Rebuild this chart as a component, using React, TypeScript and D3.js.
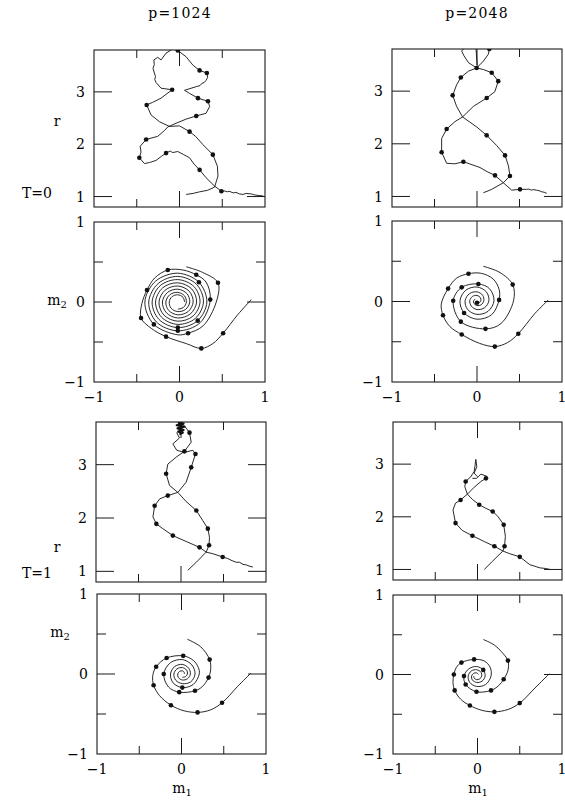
import React, { useEffect, useRef } from "react";
import * as d3 from "d3";

// each point: [m1, r or m2, dot?]
const rA1 = [[0.98,1.01],[0.93,1.02],[0.88,1.03],[0.84,1.05],[0.78,1.06],[0.74,1.04],[0.70,1.05],[0.66,1.08],[0.63,1.07],[0.58,1.10],[0.56,1.09],[0.52,1.11],[0.49,1.10,1],[0.41,1.20],[0.31,1.36],[0.235,1.51,1],[0.17,1.62],[0.118,1.74],[0.05,1.80],[-0.02,1.86],[-0.08,1.84],[-0.11,1.87],[-0.157,1.83,1],[-0.21,1.77],[-0.275,1.69],[-0.35,1.65],[-0.41,1.63],[-0.47,1.74,1],[-0.45,1.85],[-0.46,1.96],[-0.39,2.09,1],[-0.255,2.15],[-0.176,2.26],[-0.137,2.33],[-0.04,2.40],[0.078,2.48],[0.196,2.54,1],[0.31,2.59],[0.353,2.72],[0.333,2.82,1],[0.216,2.88,1],[0.118,2.97],[0.059,3.03],[0.196,3.10],[0.24,3.12],[0.26,3.16],[0.29,3.18],[0.31,3.22],[0.33,3.28],[0.32,3.36,1],[0.235,3.41,1],[0.157,3.51],[0.078,3.67],[-0.02,3.79,1]];
const rA2 = [[0.078,1.04],[0.16,1.06],[0.235,1.09],[0.33,1.12],[0.41,1.18],[0.45,1.39],[0.443,1.58],[0.39,1.80,1],[0.275,1.99],[0.188,2.15],[0.118,2.24,1],[0.0,2.35],[-0.118,2.34],[-0.235,2.43],[-0.333,2.56],[-0.384,2.75,1],[-0.314,2.80],[-0.216,2.88],[-0.086,3.04,1],[-0.216,3.07],[-0.275,3.18],[-0.29,3.24],[-0.28,3.29],[-0.294,3.36],[-0.31,3.45],[-0.295,3.52],[-0.30,3.61],[-0.255,3.66],[-0.216,3.61],[-0.157,3.74],[-0.098,3.80]];

const s1B = [[0.84,0.03],[0.68,-0.16],[0.51,-0.39,1],[0.39,-0.52],[0.255,-0.58,1],[0.08,-0.52],[-0.157,-0.433,1],[-0.33,-0.33],[-0.45,-0.2,1],[-0.44,-0.02],[-0.38,0.15,1],[-0.29,0.30],[-0.137,0.40,1],[0.04,0.40],[0.196,0.34,1],[0.31,0.25],[0.36,0.03,1],
  [0.24,-0.26],[-0.02,-0.36,1],[-0.27,-0.25],[-0.36,0],[-0.25,0.23],[-0.02,0.32],[0.20,0.22],[0.28,0],
  [0.185,-0.205],[-0.02,-0.28],[-0.21,-0.19],[-0.28,0],[-0.197,0.177],[-0.02,0.24],[0.143,0.163],[0.20,0],
  [0.128,-0.148],[-0.02,-0.20],[-0.154,-0.134],[-0.20,0],[-0.14,0.12],[-0.02,0.16],[0.086,0.106],[0.12,0],
  [0.072,-0.092],[-0.02,-0.12],[-0.098,-0.078],[-0.12,0],[-0.087,0.067],[-0.02,0.09],[0.04,0.06],[0.06,0]];
const s2B = [[0.08,0.44],[0.27,0.37],[0.45,0.24,1],[0.43,0],[0.277,-0.297],[0.1,-0.39,1],[-0.02,-0.41],[-0.30,-0.28,1],[-0.405,0],[-0.28,0.26],[-0.02,0.36],[0.227,0.247,1],[0.32,0],
  [0.213,-0.233,1],[-0.02,-0.32,1],[-0.239,-0.219],[-0.32,0],[-0.225,0.205],[-0.02,0.28],[0.171,0.191],[0.24,0],
  [0.157,-0.177],[-0.02,-0.24],[-0.183,-0.163],[-0.24,0],[-0.168,0.148],[-0.02,0.20],[0.114,0.134],[0.16,0],
  [0.10,-0.12],[-0.02,-0.16],[-0.126,-0.106],[-0.16,0],[-0.112,0.092],[-0.02,0.12],[0.058,0.078],[0.08,0],[0.047,-0.067],[-0.02,-0.09]];

const rC1 = [[0.82,1.06],[0.79,1.08],[0.76,1.09],[0.73,1.11],[0.70,1.12],[0.66,1.13],[0.64,1.12],[0.61,1.14],[0.584,1.135],[0.506,1.135,1],[0.408,1.12],[0.31,1.26],[0.212,1.40,1],[0.12,1.47],[0.035,1.55],[-0.16,1.66,1],[-0.26,1.62],[-0.357,1.63],[-0.416,1.84,1],[-0.416,2.10],[-0.357,2.28,1],[-0.26,2.42],[-0.17,2.51],[-0.043,2.71],[0.114,2.87,1],[0.21,2.99],[0.25,3.19,1],[0.173,3.35,1],[0.075,3.41],[-0.004,3.44],[-0.10,3.54],[-0.153,3.67],[-0.18,3.76],[-0.14,3.84]];
const rC2 = [[0.075,1.07],[0.173,1.135],[0.31,1.26],[0.388,1.39,1],[0.37,1.58],[0.33,1.78,1],[0.23,1.97],[0.114,2.16,1],[-0.004,2.32],[-0.17,2.51],[-0.24,2.71],[-0.286,2.92,1],[-0.24,3.12],[-0.19,3.26,1],[-0.10,3.38],[-0.004,3.44,1],[0.075,3.57],[0.133,3.70],[0.145,3.80,1]];
const rC3 = [[-0.012,3.82],[-0.004,3.63],[0.004,3.45]];

const s1D = [[0.84,0.02],[0.68,-0.15],[0.486,-0.40,1],[0.36,-0.51],[0.21,-0.56,1],[0.03,-0.52],[-0.18,-0.41,1],[-0.32,-0.31],[-0.40,-0.17,1],[-0.42,-0.03],[-0.34,0.16,1],[-0.24,0.29],[-0.10,0.345,1],[0.05,0.35],[0.19,0.28],[0.26,0.15],[0.26,0.02,1],
  [0.173,-0.163],[0,-0.22],[-0.152,-0.142,1],[-0.20,0.01],[-0.131,0.141],[0,0.18],[0.11,0.12],[0.14,0.01],
  [0.088,-0.078],[0,-0.10],[-0.067,-0.057],[-0.085,0.01],[-0.053,0.063],[0,0.075],[0.039,0.049],[0.045,0.01],[0.025,-0.015],[0,-0.015,1]];
const s2D = [[0.075,0.437],[0.27,0.36],[0.42,0.21,1],[0.43,0.01],[0.283,-0.273],[0.10,-0.34,1],[-0.19,-0.25,1],[-0.28,0.01,1],[-0.18,0.176,1],[0.016,0.218,1],[0.148,0.158],[0.20,0.01],
  [0.131,-0.121],[0,-0.16],[-0.11,-0.10],[-0.14,0.01],[-0.088,0.098],[0,0.12],[0.067,0.077],[0.08,0.01],[0.05,-0.04],[0,-0.05],[-0.035,-0.025],[-0.04,0.01],[-0.02,0.03]];

const rE1 = [[0.845,1.08],[0.80,1.10],[0.77,1.12],[0.73,1.13],[0.69,1.17],[0.65,1.17],[0.60,1.20],[0.55,1.24],[0.49,1.27,1],[0.375,1.33],[0.296,1.36],[0.218,1.45,1],[0.06,1.56],[-0.096,1.67,1],[-0.214,1.80],[-0.29,1.89,1],[-0.33,2.02],[-0.31,2.23,1],[-0.25,2.36],[-0.155,2.42,1],[-0.037,2.48],[0.06,2.67],[0.12,2.95,1],[0.17,3.20,1],[0.14,3.27],[0.04,3.23],[-0.05,3.27],[-0.096,3.39],[-0.018,3.50],[-0.05,3.60],[0.02,3.70],[-0.018,3.79]];
const rE2 = [[0.08,1.02],[0.18,1.17],[0.296,1.36],[0.33,1.49,1],[0.335,1.64],[0.316,1.80,1],[0.257,1.95],[0.18,2.14,1],[0.06,2.31],[-0.037,2.48],[-0.135,2.61],[-0.175,2.83,1],[-0.155,3.01],[-0.057,3.14],[0.04,3.25,1],[0.12,3.42],[0.10,3.60,1],[0.04,3.73],[0.002,3.79]];
const rE3 = [[-0.037,3.79],[0.03,3.77],[-0.05,3.74],[0.04,3.71],[-0.04,3.68],[0.03,3.65],[-0.03,3.62],[0.02,3.60],[-0.02,3.57]];

const s1F = [[0.82,0.01],[0.66,-0.16],[0.48,-0.36,1],[0.34,-0.45],[0.19,-0.48,1],[0.03,-0.46],[-0.125,-0.39,1],[-0.26,-0.27],[-0.33,-0.14,1],[-0.34,-0.02],[-0.30,0.09,1],[-0.176,0.20,1],[0.02,0.227,1],[0.14,0.17],[0.20,0.08],[0.21,0],
  [0.14,-0.13],[0.01,-0.17,1],[-0.10,-0.11],[-0.13,0],[-0.082,0.092],[0.01,0.12],[0.084,0.074],[0.105,0],
  [0.07,-0.06],[0.01,-0.075],[-0.036,-0.046],[-0.045,0],[-0.022,0.032],[0.01,0.04],[0.031,0.021],[0.035,0]];
const s2F = [[0.07,0.434],[0.227,0.34],[0.333,0.18,1],[0.345,0.05],[0.32,-0.045,1],[0.247,-0.157],[0.16,-0.21,1],[-0.027,-0.227,1],[-0.153,-0.163],[-0.21,0,1],[-0.131,0.141],[0.01,0.18],[0.123,0.113],[0.16,0],
  [0.109,-0.099],[0.01,-0.12],[-0.068,-0.078],[-0.09,0],[-0.054,0.064],[0.01,0.08],[0.06,0.05],[0.07,0],[0.045,-0.035],[0.01,-0.04]];

const rG1 = [[0.86,1.0],[0.80,1.02],[0.74,1.03],[0.68,1.06],[0.62,1.09],[0.50,1.24,1],[0.38,1.30],[0.30,1.35],[0.20,1.44,1],[0.08,1.53],[-0.06,1.64,1],[-0.18,1.74],[-0.26,1.88,1],[-0.29,2.13],[-0.26,2.26],[-0.20,2.32,1],[-0.12,2.43],[-0.04,2.56],[0.04,2.67],[0.10,2.73,1],[0.11,2.77],[0.04,2.81],[-0.012,2.73],[-0.06,2.73]];
const rG2 = [[0.08,1.0],[0.18,1.16],[0.30,1.35],[0.32,1.44,1],[0.33,1.63],[0.31,1.85,1],[0.24,2.01],[0.18,2.10,1],[0.10,2.16],[0.02,2.23,1],[-0.06,2.33],[-0.12,2.43],[-0.15,2.57],[-0.14,2.67,1],[-0.08,2.76],[-0.04,2.86],[-0.028,2.98],[-0.02,3.09],[-0.008,2.95],[-0.04,2.83],[0,2.76]];

const s1H = [[0.85,0.01],[0.68,-0.17],[0.50,-0.36,1],[0.36,-0.44],[0.20,-0.47,1],[0.05,-0.45],[-0.09,-0.39,1],[-0.20,-0.31],[-0.27,-0.20,1],[-0.29,-0.10],[-0.28,0,1],[-0.25,0.09],[-0.19,0.15,1],[-0.04,0.19,1],[0.08,0.17],[0.15,0.09],[0.16,-0.02],
  [0.096,-0.126],[-0.01,-0.15],[-0.091,-0.101],[-0.11,-0.02],[-0.074,0.044],[-0.01,0.06],[0.04,0.03],[0.05,-0.02],[0.025,-0.055],[-0.01,-0.065],[-0.038,-0.048],[-0.045,-0.02]];
const s2H = [[0.07,0.44],[0.20,0.37],[0.28,0.29],[0.36,0.175,1],[0.36,0.05],[0.31,-0.06,1],[0.25,-0.14],[0.16,-0.20,1],[-0.012,-0.217,1],[-0.14,-0.125,1],[-0.16,-0.02,1],[-0.102,0.072],[-0.01,0.10],[0.068,0.058,1],[0.09,-0.02],[0.054,-0.084],[-0.01,-0.10],[-0.06,-0.07],[-0.07,-0.02],[-0.045,0.015],[-0.01,0.02],[0.011,0.001]];

const columnTitles = ["p=1024", "p=2048"];
const rowLabels = ["T=0", "T=1"];
const rTicks = [1, 2, 3];
const mTicks = [-0.5, 0, 0.5];
const mTickLabels = [-1, 0, 1];

const panels = [
  { id: "A", kind: "r", x: 94, y: 50, w: 171, h: 157, lines: [rA1, rA2] },
  { id: "B", kind: "m", x: 94, y: 222, w: 171, h: 160, lines: [s1B, s2B] },
  { id: "C", kind: "r", x: 392, y: 49, w: 170, h: 158, lines: [rC1, rC2, rC3] },
  { id: "D", kind: "m", x: 392, y: 221, w: 170, h: 161, lines: [s1D, s2D] },
  { id: "E", kind: "r", x: 96, y: 422, w: 170, h: 160, lines: [rE1, rE2, rE3] },
  { id: "F", kind: "m", x: 97, y: 594, w: 169, h: 160, lines: [s1F, s2F] },
  { id: "G", kind: "r", x: 393, y: 422, w: 169, h: 158, lines: [rG1, rG2] },
  { id: "H", kind: "m", x: 393, y: 595, w: 169, h: 159, lines: [s1H, s2H] },
];

const FONT = "'DejaVu Serif', serif";
const fmt = (v: number) => (v < 0 ? "\u2212" + Math.abs(v) : String(v));

function drawPanel(svg: any, p: any) {
  const x = d3.scaleLinear().domain([-1, 1]).range([p.x, p.x + p.w]);
  const y = d3.scaleLinear().domain(p.kind === "r" ? [0.8, 3.8] : [-1, 1]).range([p.y + p.h, p.y]);
  const g = svg.append("g");

  g.append("clipPath").attr("id", "clip" + p.id)
    .append("rect").attr("x", p.x).attr("y", p.y).attr("width", p.w).attr("height", p.h);

  g.append("rect").attr("x", p.x).attr("y", p.y).attr("width", p.w).attr("height", p.h)
    .attr("fill", "none").attr("stroke", "#1a1a1a").attr("stroke-width", 1.1);

  // inward ticks on all sides
  mTicks.forEach(t => {
    const len = t === 0 ? 16 : 8;
    g.append("line").attr("x1", x(t)).attr("x2", x(t)).attr("y1", p.y).attr("y2", p.y + len).attr("stroke", "#1a1a1a");
    g.append("line").attr("x1", x(t)).attr("x2", x(t)).attr("y1", p.y + p.h).attr("y2", p.y + p.h - len).attr("stroke", "#1a1a1a");
  });
  const yt = p.kind === "r" ? rTicks : mTicks;
  yt.forEach(t => {
    const len = p.kind === "r" || t === 0 ? 18 : 9;
    g.append("line").attr("x1", p.x).attr("x2", p.x + len).attr("y1", y(t)).attr("y2", y(t)).attr("stroke", "#1a1a1a");
    g.append("line").attr("x1", p.x + p.w).attr("x2", p.x + p.w - len).attr("y1", y(t)).attr("y2", y(t)).attr("stroke", "#1a1a1a");
  });

  // tick labels
  const ylabels = p.kind === "r" ? rTicks : mTickLabels;
  ylabels.forEach(t => {
    g.append("text").attr("x", p.x - 9).attr("y", y(t)).attr("dy", "0.36em")
      .attr("text-anchor", "end").attr("font-family", FONT).attr("font-size", 14)
      .text(fmt(t));
  });
  if (p.kind === "m") {
    mTickLabels.forEach(t => {
      g.append("text").attr("x", x(t)).attr("y", p.y + p.h + 20)
        .attr("text-anchor", "middle").attr("font-family", FONT).attr("font-size", 14)
        .text(fmt(t));
    });
  }

  const line = d3.line<any>()
    .x(d => x(d[0])).y(d => y(d[1]))
    .curve(p.kind === "r" ? d3.curveLinear : d3.curveCatmullRom.alpha(0.5));

  const lg = g.append("g").attr("clip-path", `url(#clip${p.id})`);
  p.lines.forEach((l: any, i: number) => {
    lg.append("path").attr("d", line(l)).attr("fill", "none").attr("stroke", "#111")
      .attr("stroke-width", l === rE3 ? 2.2 : 0.9).attr("stroke-linejoin", "round");
    lg.selectAll(".dot" + i).data(l.filter((d: any) => d[2])).join("circle")
      .attr("class", "dot" + i)
      .attr("cx", (d: any) => x(d[0])).attr("cy", (d: any) => y(d[1]))
      .attr("r", 2.3).attr("fill", "#111");
  });
}

export default function App() {
  const ref = useRef<SVGSVGElement>(null);

  useEffect(() => {
    const svg = d3.select(ref.current);
    svg.selectAll("*").remove();
    svg.append("rect").attr("width", 565).attr("height", 801).attr("fill", "#fff");

    panels.forEach(p => drawPanel(svg, p));

    const txt = (xp: number, yp: number, s: string, anchor = "middle") =>
      svg.append("text").attr("x", xp).attr("y", yp).attr("text-anchor", anchor)
        .attr("font-family", FONT).attr("font-size", 14).text(s);

    txt(180, 18, columnTitles[0]).attr("letter-spacing", 1.2);
    txt(477, 18, columnTitles[1]).attr("letter-spacing", 1.2);
    txt(37, 198, rowLabels[0]);
    txt(37, 578, rowLabels[1]);
    txt(57, 126, "r");
    txt(57, 552, "r");

    const sub = (xp: number, yp: number, base: string, s: string) => {
      const t = svg.append("text").attr("x", xp).attr("y", yp).attr("text-anchor", "middle")
        .attr("font-family", FONT).attr("font-size", 14);
      t.append("tspan").text(base);
      t.append("tspan").attr("dy", 3).attr("font-size", 10).text(s);
    };
    sub(57, 305, "m", "2");
    sub(60, 637, "m", "2");
    sub(182, 793, "m", "1");
    sub(478, 793, "m", "1");
  }, []);

  return (
    <svg ref={ref} width={565} height={801}
      style={{ position: "absolute", left: 0, top: 0, display: "block" }} />
  );
}
